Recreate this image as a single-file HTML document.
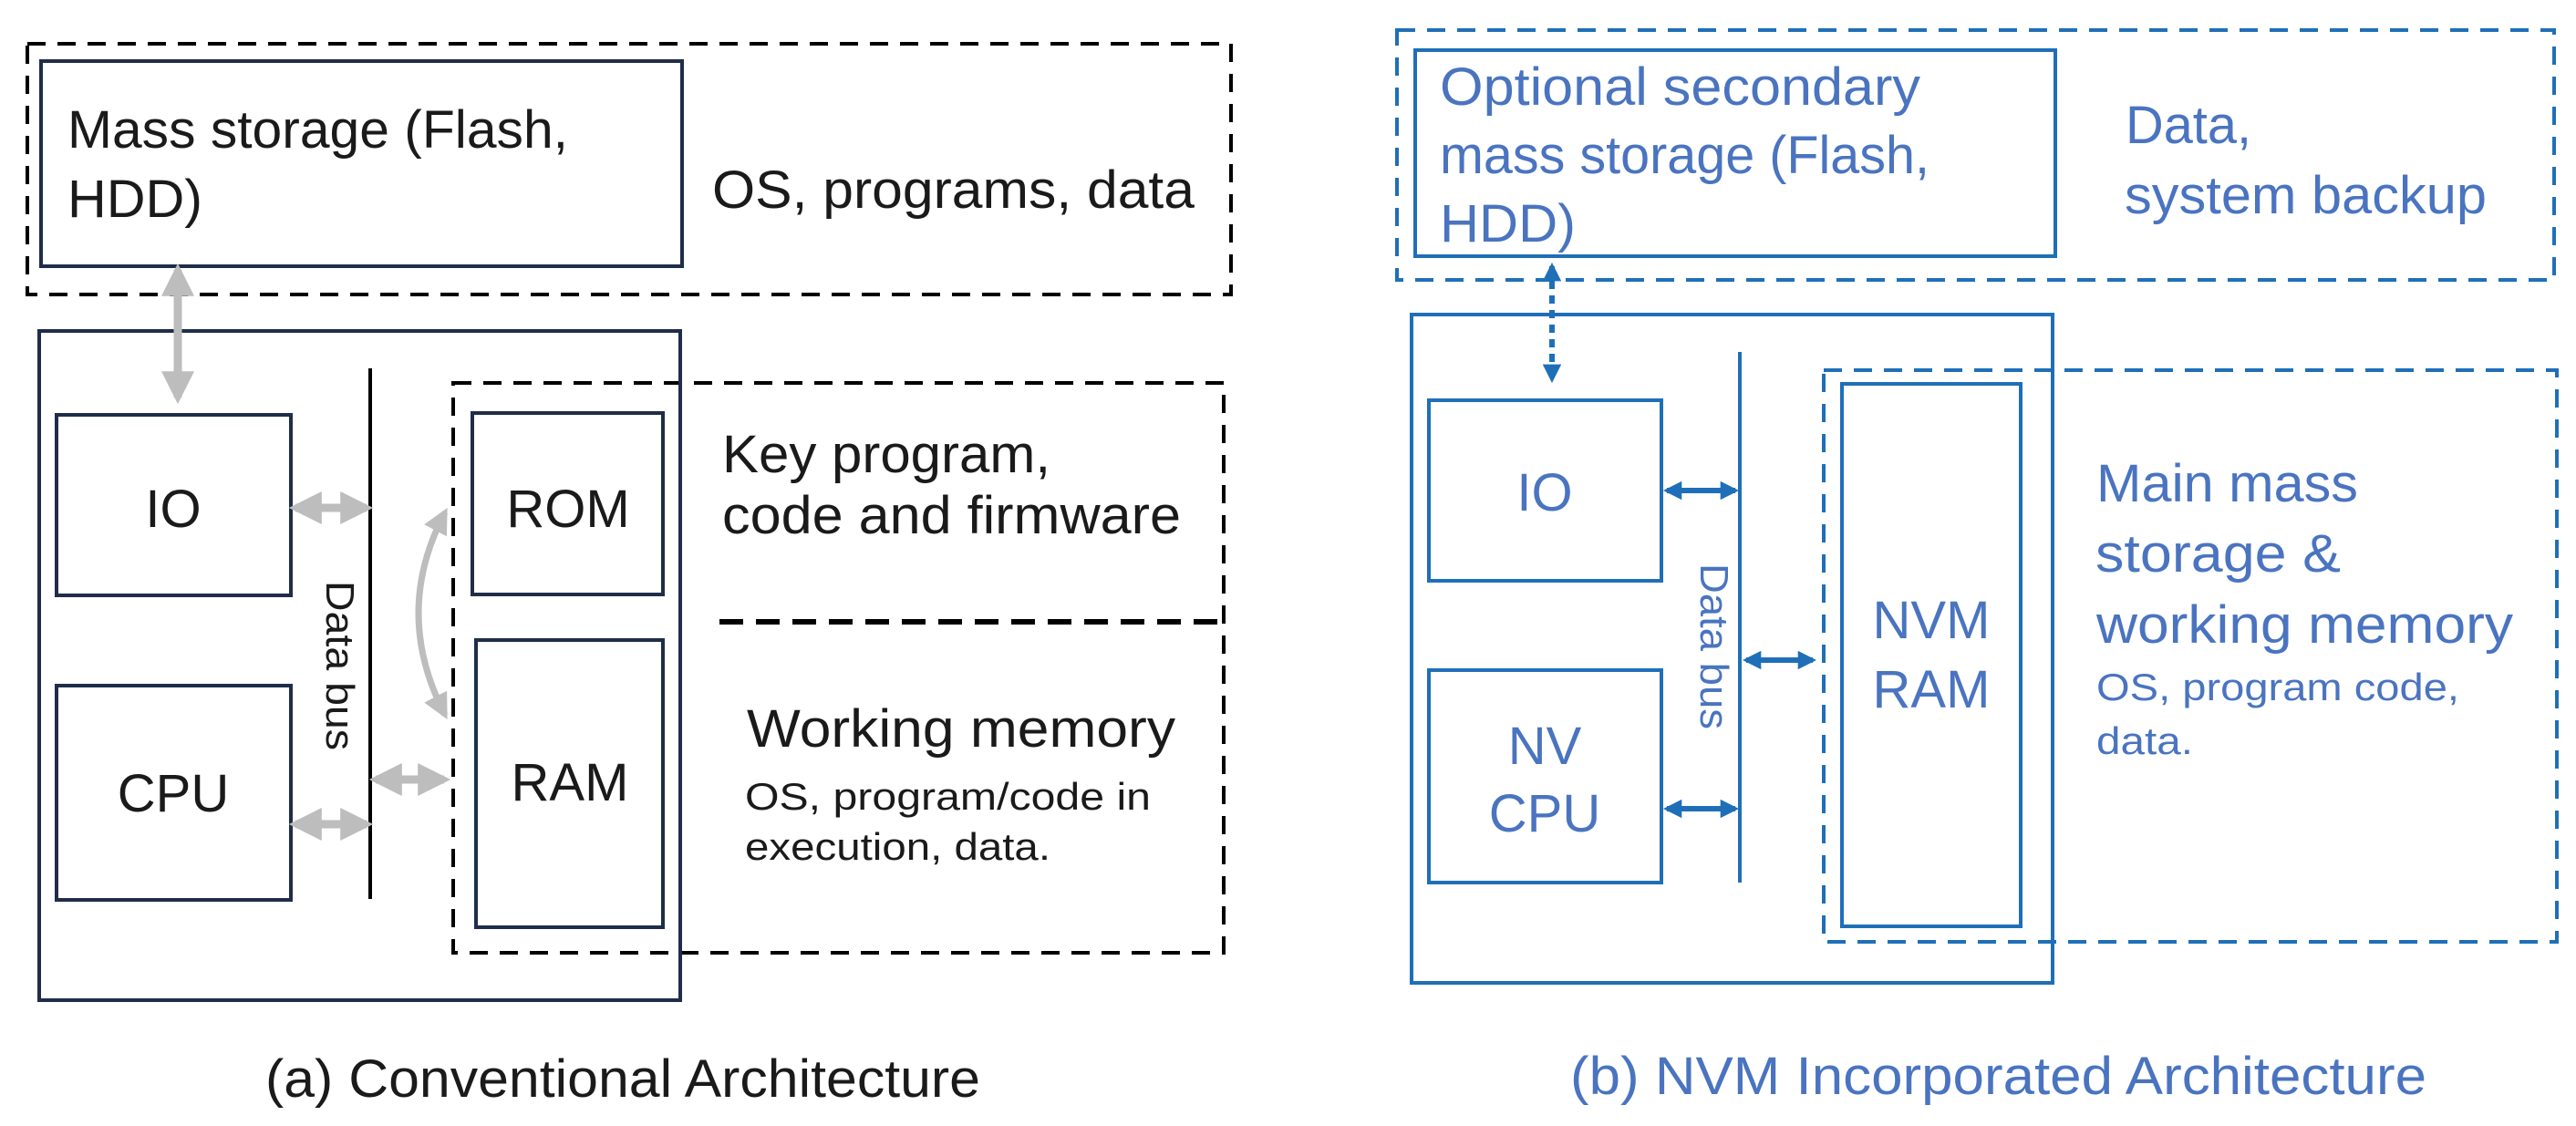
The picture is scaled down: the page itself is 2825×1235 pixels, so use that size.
<!DOCTYPE html>
<html><head><meta charset="utf-8"><style>
html,body{margin:0;padding:0;background:#fff}
svg{display:block}
text{font-family:"Liberation Sans","Noto Sans CJK SC",sans-serif}
</style></head><body>
<svg width="2825" height="1235" viewBox="0 0 2825 1235" xmlns="http://www.w3.org/2000/svg">
<defs>
<marker id="ga" viewBox="0 0 10 10" refX="8" refY="5" markerWidth="4" markerHeight="4" orient="auto-start-reverse"><path d="M0,0 L10,5 L0,10 z" fill="#bdbdbd"/></marker>
<marker id="ba" viewBox="0 0 10 10" refX="8" refY="5" markerWidth="3.4" markerHeight="3.4" orient="auto-start-reverse"><path d="M0,0 L10,5 L0,10 z" fill="#1f6fb8"/></marker>
</defs>
<!-- LEFT -->
<g fill="none" stroke="#000" stroke-width="4" stroke-dasharray="20 13">
<rect x="30" y="48" width="1320" height="275"/>
<rect x="497" y="420" width="845" height="625"/>
</g>
<line x1="789" y1="682" x2="1342" y2="682" stroke="#000" stroke-width="6" stroke-dasharray="26 14"/>
<g fill="none" stroke="#1f2d4a" stroke-width="4">
<rect x="45" y="67" width="703" height="225"/>
<rect x="43" y="363" width="703" height="734"/>
<rect x="62" y="455" width="257" height="198"/>
<rect x="62" y="752" width="257" height="235"/>
<rect x="518" y="453" width="209" height="199"/>
<rect x="522" y="702" width="205" height="315"/>
</g>
<line x1="406" y1="404" x2="406" y2="986" stroke="#000" stroke-width="4"/>
<g stroke="#bdbdbd" stroke-width="9" fill="none" marker-start="url(#ga)" marker-end="url(#ga)">
<line x1="195" y1="296" x2="195" y2="436"/>
<line x1="324" y1="557" x2="402" y2="557"/>
<line x1="324" y1="904" x2="402" y2="904"/>
<line x1="412" y1="855" x2="487" y2="855"/>
<path d="M488,562 Q430,672 488,784" stroke-width="7"/>
</g>
<g fill="#1a1a1a" font-size="58" lengthAdjust="spacingAndGlyphs">
<text x="74" y="162" textLength="549" lengthAdjust="spacingAndGlyphs">Mass storage (Flash,</text>
<text x="74" y="238" textLength="148" lengthAdjust="spacingAndGlyphs">HDD)</text>
<text x="781" y="228" textLength="529" lengthAdjust="spacingAndGlyphs">OS, programs, data</text>
<text x="190" y="578" text-anchor="middle">IO</text>
<text x="190" y="890" text-anchor="middle">CPU</text>
<text x="623" y="578" text-anchor="middle">ROM</text>
<text x="625" y="878" text-anchor="middle">RAM</text>
<text x="792" y="518" textLength="360" lengthAdjust="spacingAndGlyphs">Key program,</text>
<text x="792" y="585" textLength="503" lengthAdjust="spacingAndGlyphs">code and firmware</text>
<text x="819" y="819" textLength="470" lengthAdjust="spacingAndGlyphs">Working memory</text>
<text x="291" y="1203" textLength="784" lengthAdjust="spacingAndGlyphs">(a) Conventional Architecture</text>
</g>
<g fill="#1a1a1a" font-size="42">
<text x="817" y="888" textLength="445" lengthAdjust="spacingAndGlyphs">OS, program/code in</text>
<text x="817" y="943" textLength="335" lengthAdjust="spacingAndGlyphs">execution, data.</text>
</g>
<text x="0" y="0" font-size="44" fill="#1a1a1a" transform="translate(358,637) rotate(90)" textLength="186" lengthAdjust="spacingAndGlyphs">Data bus</text>
<!-- RIGHT -->
<g fill="none" stroke="#1f6fb8" stroke-width="4" stroke-dasharray="20 13">
<rect x="1532" y="33" width="1269" height="274"/>
<rect x="2000" y="406" width="804" height="627"/>
</g>
<g fill="none" stroke="#1f6fb8" stroke-width="4">
<rect x="1552" y="55" width="702" height="226"/>
<rect x="1548" y="345" width="703" height="733"/>
<rect x="1567" y="439" width="255" height="198"/>
<rect x="1567" y="735" width="255" height="233"/>
<rect x="2020" y="421" width="196" height="595"/>
</g>
<line x1="1908" y1="386" x2="1908" y2="968" stroke="#1f6fb8" stroke-width="4"/>
<g stroke="#1f6fb8" stroke-width="6" fill="none" marker-start="url(#ba)" marker-end="url(#ba)">
<line x1="1702" y1="292" x2="1702" y2="416" stroke-dasharray="9 7"/>
<line x1="1828" y1="538" x2="1903" y2="538"/>
<line x1="1828" y1="887" x2="1903" y2="887"/>
<line x1="1915" y1="724" x2="1988" y2="724"/>
</g>
<g fill="#4a74c0" font-size="58">
<text x="1579" y="115" textLength="527" lengthAdjust="spacingAndGlyphs">Optional secondary</text>
<text x="1579" y="190" textLength="537" lengthAdjust="spacingAndGlyphs">mass storage (Flash,</text>
<text x="1579" y="265" textLength="149" lengthAdjust="spacingAndGlyphs">HDD)</text>
<text x="2331" y="157" textLength="138" lengthAdjust="spacingAndGlyphs">Data,</text>
<text x="2330" y="234" textLength="397" lengthAdjust="spacingAndGlyphs">system backup</text>
<text x="1694" y="560" text-anchor="middle">IO</text>
<text x="1694" y="838" text-anchor="middle">NV</text>
<text x="1694" y="912" text-anchor="middle">CPU</text>
<text x="2118" y="700" text-anchor="middle">NVM</text>
<text x="2118" y="776" text-anchor="middle">RAM</text>
<text x="2299" y="550" textLength="287" lengthAdjust="spacingAndGlyphs">Main mass</text>
<text x="2298" y="627" textLength="269" lengthAdjust="spacingAndGlyphs">storage &amp;</text>
<text x="2299" y="705" textLength="457" lengthAdjust="spacingAndGlyphs">working memory</text>
<text x="1722" y="1200" textLength="939" lengthAdjust="spacingAndGlyphs">(b) NVM Incorporated Architecture</text>
</g>
<g fill="#4a74c0" font-size="42">
<text x="2299" y="768" textLength="398" lengthAdjust="spacingAndGlyphs">OS, program code,</text>
<text x="2299" y="827" textLength="106" lengthAdjust="spacingAndGlyphs">data.</text>
</g>
<text x="0" y="0" font-size="44" fill="#4a74c0" transform="translate(1865,618) rotate(90)" textLength="182" lengthAdjust="spacingAndGlyphs">Data bus</text>
</svg>
</body></html>
